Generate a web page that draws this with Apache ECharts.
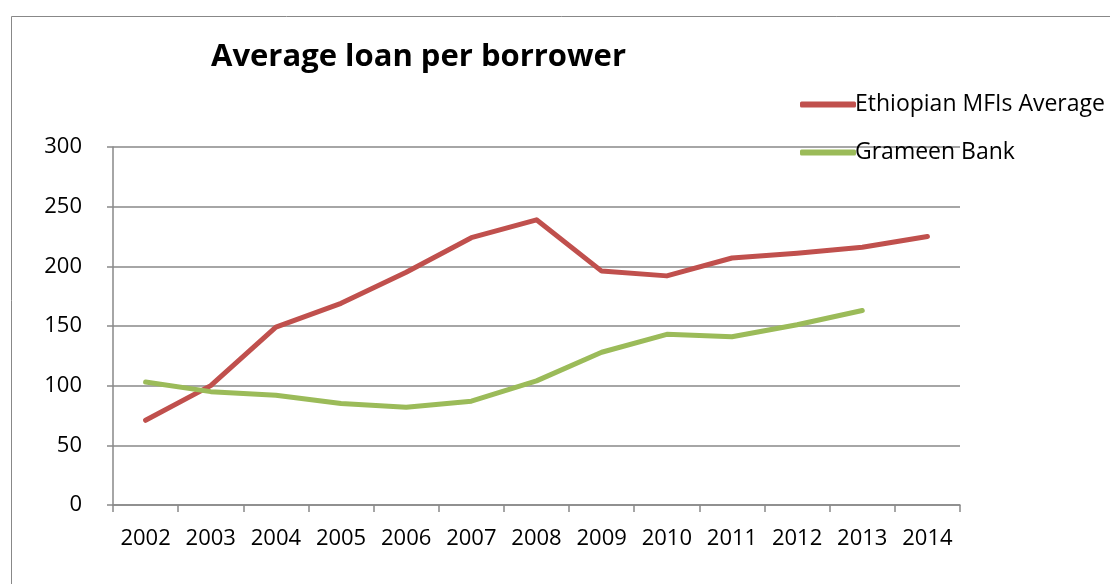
<!DOCTYPE html>
<html>
<head>
<meta charset="utf-8">
<script src="https://cdn.jsdelivr.net/npm/echarts@6/dist/echarts.min.js"></script>
<style>
  html, body { margin: 0; padding: 0; background: #fff; }
  #chart { width: 1110px; height: 584px; }
</style>
</head>
<body>
<div id="chart"></div>
<script>
// data
const years = ['2002', '2003', '2004', '2005', '2006', '2007', '2008', '2009', '2010', '2011', '2012', '2013', '2014'];
const ethiopian = [71, 100, 149, 169, 195, 224, 239, 196, 192, 207, 211, 216, 225];
const grameen = [103, 95, 92, 85, 82, 87, 104, 128, 143, 141, 151, 163, null];

const font = '"Open Sans", Lato, sans-serif';
const gridColor = '#898989';

const chart = echarts.init(document.getElementById('chart'));

chart.setOption({
    animation: false,
    backgroundColor: '#fff',
    textStyle: { fontFamily: font },
    title: {
        text: 'Average loan per borrower',
        left: 206,
        top: 37,
        textStyle: { fontSize: 31, fontWeight: 'bold', color: '#000', fontFamily: font }
    },
    legend: {
        orient: 'vertical',
        left: 795,
        top: 88,
        itemWidth: 56,
        itemHeight: 6,
        itemGap: 25,
        icon: 'roundRect',
        textStyle: { fontSize: 23, color: '#000', padding: [0, 0, 0, -6], fontFamily: font },
        data: ['Ethiopian MFIs Average', 'Grameen Bank']
    },
    // outer chart border
    graphic: [{
        type: 'rect',
        z: -1,
        shape: { x: 11.5, y: 16.5, width: 1200, height: 700 },
        style: { fill: 'none', stroke: '#888', lineWidth: 1 }
    }],
    grid: { left: 113, right: 150, top: 147, bottom: 79 },
    xAxis: {
        type: 'category',
        data: years,
        boundaryGap: true,
        axisLine: { lineStyle: { color: gridColor, width: 1.5 } },
        axisTick: { show: true, interval: 0, length: 7, alignWithLabel: false, lineStyle: { color: gridColor, width: 1.5 } },
        axisLabel: { interval: 0, hideOverlap: false, fontSize: 22, color: '#000', margin: 23 }
    },
    yAxis: {
        type: 'value',
        min: 0,
        max: 300,
        interval: 50,
        axisLine: { show: true, lineStyle: { color: gridColor, width: 1.5 } },
        axisTick: { show: true, length: 6, lineStyle: { color: gridColor, width: 1.5 } },
        axisLabel: { fontSize: 22, color: '#000', margin: 31 },
        splitLine: { lineStyle: { color: gridColor, width: 1.5 } }
    },
    series: [
        {
            name: 'Ethiopian MFIs Average',
            type: 'line',
            data: ethiopian,
            symbol: 'none',
            color: '#C0504D',
            lineStyle: { width: 5, cap: 'round', join: 'round' }
        },
        {
            name: 'Grameen Bank',
            type: 'line',
            data: grameen,
            symbol: 'none',
            color: '#9BBB59',
            lineStyle: { width: 5, cap: 'round', join: 'round' }
        }
    ]
});
</script>
</body>
</html>
